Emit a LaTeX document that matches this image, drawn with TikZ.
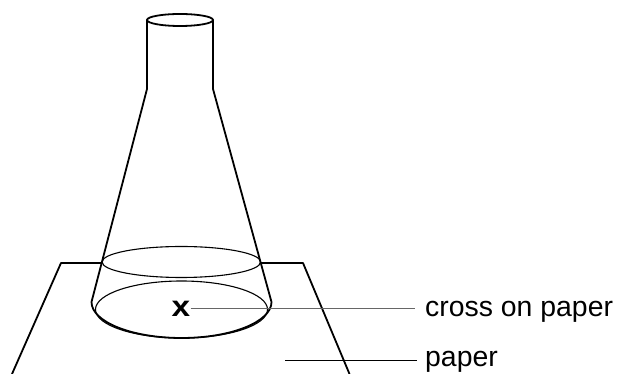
\documentclass[tikz,border=0pt]{standalone}
\usepackage{fontspec}
\setmainfont{Liberation Sans}
\begin{document}
\begin{tikzpicture}[x=1pt,y=1pt,
  thick outline/.style={line width=1.8pt, line join=round},
  thin outline/.style={line width=1.1pt},
  labelline/.style={line width=1.0pt},
  labeltext/.style={font=\fontsize{28.4}{32}\selectfont, inner sep=0pt, anchor=base west}]
\useasboundingbox (0,0) rectangle (620,374);
% paper
\draw[thick outline] (102,111) -- (61,111) -- (12,0);
\draw[thick outline] (260.8,111) -- (303,111) -- (349.5,0);
% flask neck
\draw[thick outline] (180,354) ellipse [x radius=33, y radius=6];
\draw[thick outline] (147,354) -- (147,285) -- (91.5,72)
  arc[start angle=180, end angle=360, x radius=90, y radius=36] -- (213,285) -- (213,354);
% inner ellipses
\draw[thin outline] (181.3,112) ellipse [x radius=79.3, y radius=15.5];
\draw[thin outline] (181.5,64.5) ellipse [x radius=86, y radius=28.5];
% cross and labels
\node[inner sep=0pt, font=\fontsize{29}{32}\selectfont\bfseries, xscale=1.15] (cross) at (181,65) {x};
\coordinate (crossend) at (415,65);
\node[labeltext] (crosslabel) at (425,57) {cross on paper};
\draw[labelline, draw=black!60] (cross.east) -- (crossend);
\coordinate (paperstart) at (285,13);
\coordinate (paperend) at (417,13);
\node[labeltext] (paperlabel) at (425,7) {paper};
\draw[labelline] (paperstart) -- (paperend);
\end{tikzpicture}
\end{document}
